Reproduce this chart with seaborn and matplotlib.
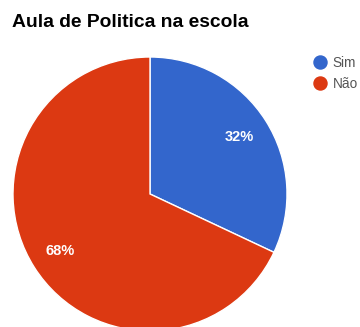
import matplotlib
matplotlib.use("Agg")
import matplotlib.pyplot as plt
from matplotlib.lines import Line2D
import seaborn as sns

title = "Aula de Politica na escola"
categories = ["Sim", "Não"]
values = [32, 68]
colors = ["#3366CC", "#DC3912"]

sns.set_theme(style="white")
plt.rcParams['font.family'] = ['Liberation Sans', 'DejaVu Sans']

W, H = 360, 327
fig = plt.figure(figsize=(W / 100, H / 100), dpi=100)
fig.patch.set_facecolor("white")

# pie: centre (150,194), radius 137 px
cx, cy, r = 150, 194, 137
ax = fig.add_axes([(cx - r) / W, (H - cy - r) / H, 2 * r / W, 2 * r / H])
wedges, texts, autotexts = ax.pie(
    values, colors=colors, startangle=90, counterclock=False,
    autopct=lambda p: f"{p:.0f}%", pctdistance=0.775,
    wedgeprops=dict(edgecolor="white", linewidth=1),
    textprops=dict(color="white", fontsize=10.5, fontweight="bold"),
)
ax.set_xlim(-1, 1)
ax.set_ylim(-1, 1)
ax.set_aspect("equal")
ax.axis("off")

fig.text(12 / W, 1 - 22.5 / H, title, fontsize=13.9, fontweight="bold",
         color="#000000", ha="left", va="center")

handles = [Line2D([0], [0], marker="o", linestyle="none", markersize=9.4,
                  markerfacecolor=c, markeredgecolor=c) for c in colors]
fig.legend(handles, categories, loc="upper left",
           bbox_to_anchor=(313.4 / W, 1 - 56 / H), frameon=False,
           fontsize=9.8, labelcolor="#555555", handletextpad=0.4,
           labelspacing=0.5, handlelength=1.0, borderaxespad=0, borderpad=0)

fig.savefig("out.png", dpi=100, facecolor="white")
